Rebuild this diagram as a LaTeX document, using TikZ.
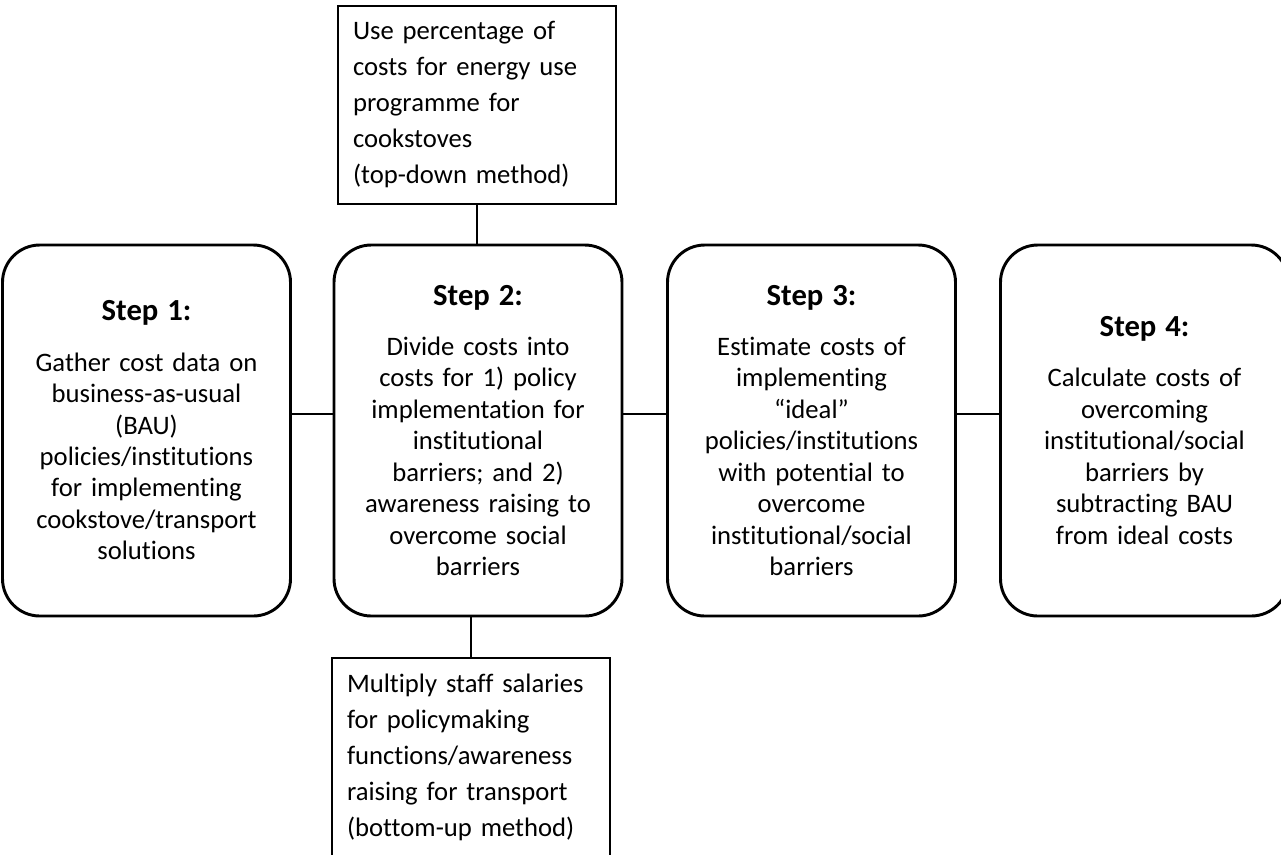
\documentclass[tikz,border=0pt]{standalone}
\usepackage{fontspec}
\setmainfont{Carlito}[Ligatures=NoCommon]
\newcommand\stephead[1]{{\fontsize{23}{24}\selectfont\bfseries #1}\\[14pt]}
\begin{document}
\begin{tikzpicture}[x=0.75pt,y=-0.75pt,
  stepbox/.style={draw,line width=2.2pt,rounded corners=28pt,minimum width=216pt,
    minimum height=278.25pt,text width=205pt,align=center,inner sep=0pt,
    font=\fontsize{20}{23.6}\selectfont},
  notebox/.style={draw,line width=1.1pt,minimum width=208.5pt,minimum height=148.5pt,
    text width=186pt,inner xsep=11.25pt,inner ysep=0pt,align=left,
    font=\fontsize{20}{27}\selectfont},
  conn/.style={draw,line width=0.8pt}]
\useasboundingbox (0,0) rectangle (1281,854);
\node[stepbox] (s1) at (146.5,430.5) {\stephead{Step 1:}Gather cost data on\\business-as-usual\\(BAU)\\policies/institutions\\for implementing\\cookstove/transport\\solutions};
\node[stepbox] (s2) at (478,430.5) {\stephead{Step 2:}Divide costs into\\costs for 1) policy\\implementation for\\institutional\\barriers; and 2)\\awareness raising to\\overcome social\\barriers};
\node[stepbox] (s3) at (811.5,430.5) {\stephead{Step 3:}Estimate costs of\\implementing\\“ideal”\\policies/institutions\\with potential to\\overcome\\institutional/social\\barriers};
\node[stepbox] (s4) at (1144.5,430.5) {\stephead{Step 4:}Calculate costs of\\overcoming\\institutional/social\\barriers by\\subtracting BAU\\from ideal costs};
\node[notebox] (top) at (477,105) {\mbox{Use percentage of}\\\mbox{costs for energy use}\\\mbox{programme for}\\\mbox{cookstoves}\\\mbox{(top-down method)}};
\node[notebox] (bot) at (471,757) {\mbox{Multiply staff salaries}\\\mbox{for policymaking}\\\mbox{functions/awareness}\\\mbox{raising for transport}\\\mbox{(bottom-up method)}};
\draw[conn] ([yshift=12.4pt]s1.east) -- ([yshift=12.4pt]s2.west);
\draw[conn] ([yshift=12.4pt]s2.east) -- ([yshift=12.4pt]s3.west);
\draw[conn] ([yshift=12.4pt]s3.east) -- ([yshift=12.4pt]s4.west);
\draw[conn] (top.south) -- (top.south |- s2.north);
\draw[conn] (bot.north) -- (bot.north |- s2.south);
\end{tikzpicture}
\end{document}
